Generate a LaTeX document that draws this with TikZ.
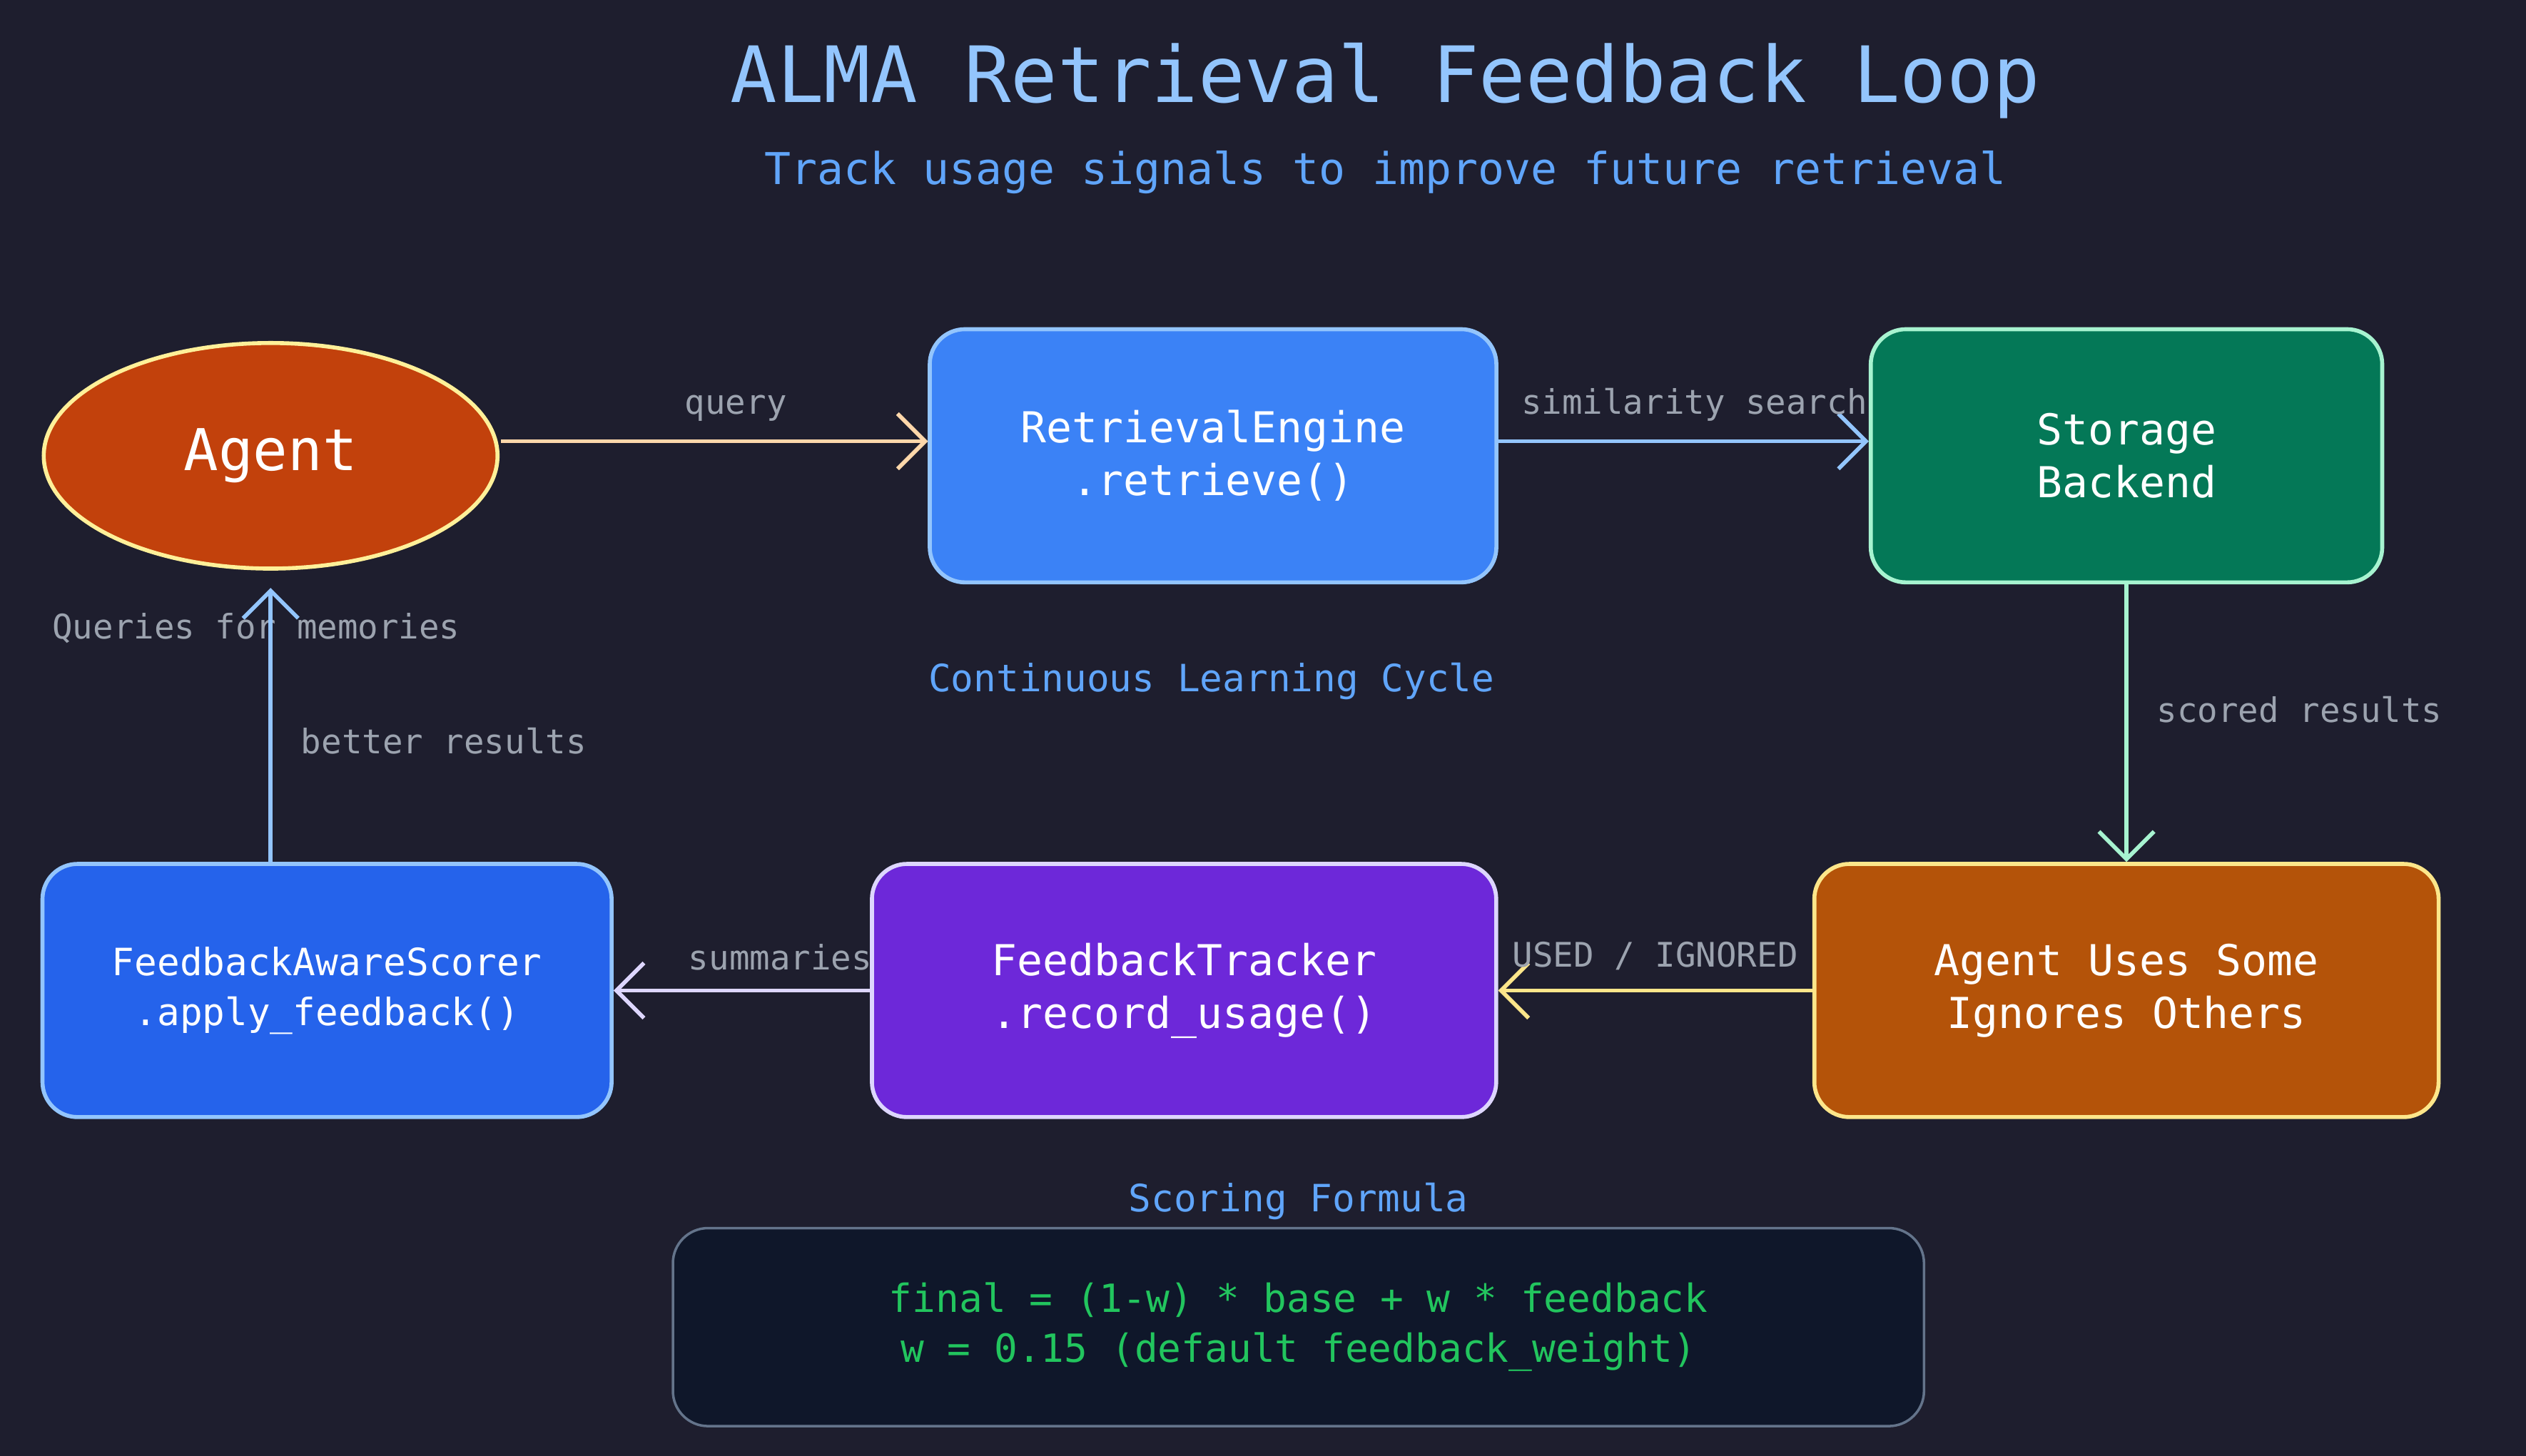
\documentclass[tikz,border=0pt]{standalone}
\usepackage{fontspec}
\setmainfont{DejaVu Sans Mono}
\usetikzlibrary{arrows.meta,shapes.geometric}
\definecolor{bg}{HTML}{1E1E2E}
\definecolor{ttl}{HTML}{93C5FD}
\definecolor{sub}{HTML}{60A5FA}
\definecolor{lbl}{HTML}{9CA3AF}
\begin{document}
\begin{tikzpicture}[x=0.022577cm,y=-0.022577cm,
  box/.style={draw,line width=1.6pt,rounded corners=14pt,text=white,align=center,font=\fontsize{17}{21}\selectfont,inner sep=0pt},
  arr/.style={line width=1.6pt,-{Straight Barb[length=11pt,width=22pt,line width=1.6pt]}},
  el/.style={text=lbl,font=\fontsize{13.5}{16}\selectfont}]
\fill[bg] (0,0) rectangle (1568,904);
\useasboundingbox (0,0) rectangle (1568,904);
\node[text=ttl,font=\fontsize{31}{36}\selectfont] (title) at (860,50) {ALMA Retrieval Feedback Loop};
\node[text=sub,font=\fontsize{17.5}{21}\selectfont] (subtitle) at (860,107) {Track usage signals to improve future retrieval};
\node[ellipse,draw=orange!30!yellow!40,fill={rgb,255:red,194;green,65;blue,12},line width=1.6pt,minimum width=284\pgflinewidth*0+181pt,minimum height=90pt,text=white,font=\fontsize{23}{27}\selectfont] (agent) at (168,283) {Agent};
\node[box,fill={rgb,255:red,59;green,130;blue,246},draw={rgb,255:red,147;green,197;blue,253},minimum width=226pt,minimum height=101pt] (re) at (753,283) {RetrievalEngine\\.retrieve()};
\node[box,fill={rgb,255:red,4;green,120;blue,87},draw={rgb,255:red,167;green,243;blue,208},minimum width=204pt,minimum height=101pt] (st) at (1320,283) {Storage\\Backend};
\node[box,fill={rgb,255:red,180;green,83;blue,9},draw={rgb,255:red,253;green,230;blue,138},minimum width=249pt,minimum height=101pt] (au) at (1320,615) {Agent Uses Some\\Ignores Others};
\node[box,fill={rgb,255:red,109;green,40;blue,217},draw={rgb,255:red,221;green,214;blue,254},minimum width=249pt,minimum height=101pt] (ft) at (735,615) {FeedbackTracker\\.record\_usage()};
\node[box,fill={rgb,255:red,37;green,99;blue,235},draw={rgb,255:red,147;green,197;blue,253},minimum width=227pt,minimum height=101pt,font=\fontsize{15}{20}\selectfont] (fs) at (203,615) {FeedbackAwareScorer\\.apply\_feedback()};
\node[draw={rgb,255:red,100;green,116;blue,139},fill={rgb,255:red,15;green,23;blue,42},line width=1pt,rounded corners=14pt,minimum width=499pt,minimum height=79pt,align=center,text={rgb,255:red,34;green,197;blue,94},font=\fontsize{15.5}{20}\selectfont] (fm) at (806,824) {final = (1-w) * base + w * feedback\\w = 0.15 (default feedback\_weight)};
\node[text=sub,font=\fontsize{15}{18}\selectfont] (sf) at (806,746) {Scoring Formula};
\node[text=sub,font=\fontsize{15}{18}\selectfont] (clc) at (752,423) {Continuous Learning Cycle};
\node[el] (qm) at (159,390) {Queries for memories};
\coordinate (a1) at (311,274); \coordinate (a2) at (576,274);
\draw[arr,draw={rgb,255:red,253;green,215;blue,170}] (a1) -- (a2) node[el,pos=0.55,above=4pt] {query};
\coordinate (b1) at (930,274); \coordinate (b2) at (1160,274);
\draw[arr,draw={rgb,255:red,147;green,197;blue,253}] (b1) -- (b2) node[el,pos=0.53,above=4pt] {similarity search};
\draw[arr,draw={rgb,255:red,167;green,243;blue,208}] (st.south) -- (au.north) node[el,pos=0.45,right=8pt] {scored results};
\draw[arr,draw={rgb,255:red,253;green,230;blue,138}] (au.west) -- (ft.east) node[el,pos=0.5,above=4pt] {USED / IGNORED};
\draw[arr,draw={rgb,255:red,221;green,214;blue,254}] (ft.west) -- (fs.east) node[el,pos=0.35,above=4pt] {summaries};
\coordinate (c1) at (168,535); \coordinate (c2) at (168,365);
\draw[arr,draw={rgb,255:red,147;green,197;blue,253}] (c1) -- (c2) node[el,pos=0.44,right=8pt] {better results};
\end{tikzpicture}
\end{document}
